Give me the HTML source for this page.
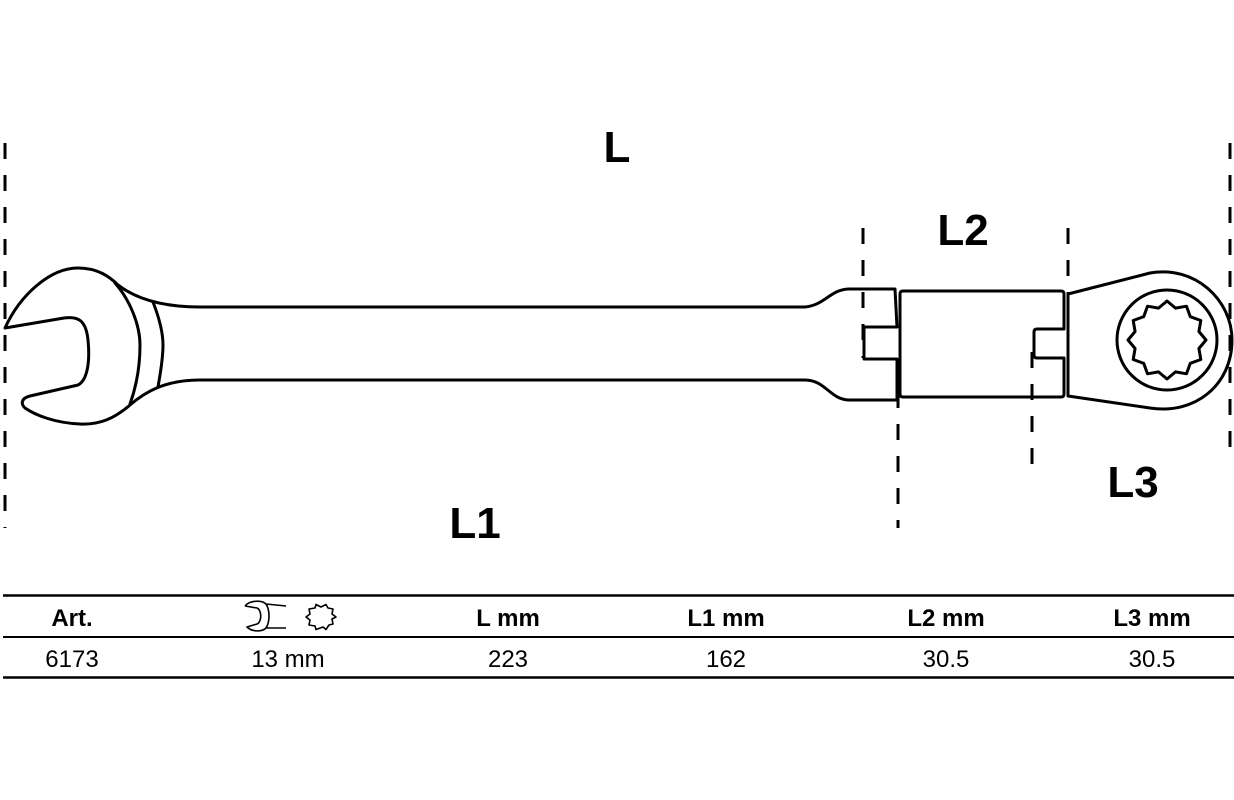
<!DOCTYPE html>
<html><head><meta charset="utf-8"><style>
html,body{margin:0;padding:0;background:#fff;width:1234px;height:800px;overflow:hidden}
svg{display:block}
text{font-family:"Liberation Sans",sans-serif;fill:#000}
</style></head><body>
<svg width="1234" height="800" viewBox="0 0 1234 800" xmlns="http://www.w3.org/2000/svg">
<g stroke="#000" stroke-width="3" stroke-dasharray="16,16" fill="none">
<line x1="5" y1="143" x2="5" y2="528"/>
<line x1="1230" y1="143" x2="1230" y2="458"/>
<line x1="863" y1="228" x2="863" y2="358"/>
<line x1="1068" y1="228" x2="1068" y2="302"/>
<line x1="898" y1="392" x2="898" y2="528"/>
<line x1="1032" y1="352" x2="1032" y2="476"/>
</g>
<g stroke="#000" stroke-width="3" fill="none" stroke-linejoin="round" stroke-linecap="round">
<path d="M5,328 C20,295 50,268 78,268 C98,268 110,277 118,285 C135,298 160,307 200,307 L805,307 C825,305 830,290 848,289 L895,289 L897,327 L864,327 L864,359 L897,359 L897,400 L848,400 C830,399 825,380 805,380 L200,380 C165,380 145,392 130,405 C115,418 100,425 80,424 C55,423 35,415 25,408 C20,403 22,398 30,396 L78,385 C88,380 90,360 88,340 C86,320 78,316 64,318 Z"/>
<path d="M115,283 C130,300 140,325 140,345 C140,370 135,390 130,404"/>
<path d="M153,302 C160,320 163,335 163,345 C163,360 160,375 158,387"/>
<path d="M900,294 Q900,291 903,291 L1061,291 Q1064,291 1064,294 L1064,329 L1037,329 Q1034,329 1034,332 L1034,355 Q1034,358 1037,358 L1064,358 L1064,394 Q1064,397 1061,397 L903,397 Q900,397 900,394 Z"/>
<path d="M1068,294 L1150,273 C1195,265 1232,300 1232,340 C1232,385 1195,415 1150,408 L1068,396 Z"/>
<circle cx="1167" cy="340" r="50"/>
<path d="M1206,340 L1198.9,348.5 L1200.8,359.5 L1190.3,363.3 L1186.5,373.8 L1175.5,371.9 L1167,379 L1158.5,371.9 L1147.5,373.8 L1143.7,363.3 L1133.2,359.5 L1135.1,348.5 L1128,340 L1135.1,331.5 L1133.2,320.5 L1143.7,316.7 L1147.5,306.2 L1158.5,308.1 L1167,301 L1175.5,308.1 L1186.5,306.2 L1190.3,316.7 L1200.8,320.5 L1198.9,331.5 Z"/>
</g>
<g font-weight="bold" font-size="44" text-anchor="middle">
<text x="617" y="162">L</text>
<text x="963" y="245">L2</text>
<text x="1133" y="497">L3</text>
<text x="475" y="538">L1</text>
</g>
<g stroke="#000" fill="none">
<line x1="3" y1="595.5" x2="1234" y2="595.5" stroke-width="2.5"/>
<line x1="3" y1="637" x2="1234" y2="637" stroke-width="2"/>
<line x1="3" y1="677.5" x2="1234" y2="677.5" stroke-width="2.5"/>
</g>
<g font-weight="bold" font-size="24" text-anchor="middle">
<text x="72" y="626">Art.</text>
<text x="508" y="626">L mm</text>
<text x="726" y="626">L1 mm</text>
<text x="946" y="626">L2 mm</text>
<text x="1152" y="626">L3 mm</text>
</g>
<g font-size="24" text-anchor="middle">
<text x="72" y="667">6173</text>
<text x="288" y="667">13 mm</text>
<text x="508" y="667">223</text>
<text x="726" y="667">162</text>
<text x="946" y="667">30.5</text>
<text x="1152" y="667">30.5</text>
</g>
<g stroke="#000" stroke-width="1.6" fill="none" stroke-linejoin="round">
<path d="M245,606 C250,600 262,600 266,604 L286,606 M245,606 L257,608 C262,610 262,622 257,624 L247,627 C252,632 262,632 266,628 L286,628 M266,604 C270,610 270,622 266,628"/>
<path d="M336,617 L332,619 L333,624 L329,625 L326,629.5 L323,627 L316,629.5 L315,626 L309,625 L310,620 L306,617 L310,614 L309,609 L315,608 L316,604.5 L321,607 L326,604.5 L328,608 L333,609 L332,614 Z"/>
</g>
</svg>
</body></html>
